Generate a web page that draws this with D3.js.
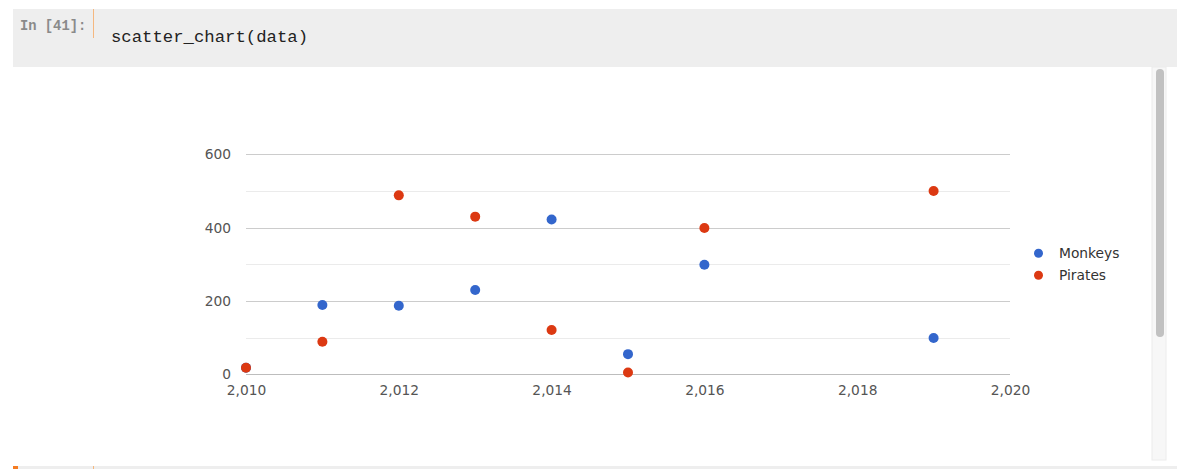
<!DOCTYPE html>
<html><head><meta charset="utf-8">
<script src="https://cdn.jsdelivr.net/npm/d3@7"></script>
<style>
html,body{margin:0;padding:0;background:#fff;overflow:hidden;}
svg{display:block;}
</style></head>
<body>
<svg id="c" width="1187" height="469"></svg>
<script>
const years = [2010, 2011, 2012, 2013, 2014, 2015, 2016, 2019];
const monkeys = [18, 189, 187, 230, 422, 55, 299, 99];
const pirates = [18, 89, 488, 430, 121, 5, 399, 500];
const seriesNames = ["Monkeys", "Pirates"];
const seriesColors = ["#3366cc", "#dc3912"];
const xTicks = [2010, 2012, 2014, 2016, 2018, 2020];
const yMajor = [0, 200, 400, 600];
const yMinor = [100, 300, 500];

const FONT = "DejaVu Sans, Verdana, sans-serif";
const svg = d3.select("#c");
// notebook cell chrome
svg.append("rect").attr("x",13).attr("y",9).attr("width",1164).attr("height",58).attr("fill","#eeeeee");
svg.append("rect").attr("x",93).attr("y",9).attr("width",1).attr("height",29).attr("fill","#f5b880");
svg.append("text").attr("x",20).attr("y",29.5).attr("font-family","Liberation Mono, monospace")
  .attr("font-size",13.8).attr("font-weight","bold").attr("fill","#8a8a8a").text("In [41]:");
svg.append("text").attr("x",111).attr("y",42).attr("font-family","Liberation Mono, monospace")
  .attr("font-size",17.3).attr("fill","#222").text("scatter_chart(data)");
// scrollbar
svg.append("rect").attr("x",1152).attr("y",67).attr("width",14).attr("height",393).attr("fill","#f7f7f7").attr("stroke","#ececec");
svg.append("rect").attr("x",1156).attr("y",69).attr("width",8).attr("height",268).attr("rx",4).attr("fill","#c1c1c1");
// bottom line of next cell
svg.append("rect").attr("x",13).attr("y",466).attr("width",1164).attr("height",3).attr("fill","#eeeeee");
svg.append("rect").attr("x",13).attr("y",466).attr("width",5).attr("height",3).attr("fill","#f57c22");
svg.append("rect").attr("x",93).attr("y",466).attr("width",1).attr("height",3).attr("fill","#f5b880");

const x = d3.scaleLinear().domain([2010, 2020]).range([246, 1010]);
const y = d3.scaleLinear().domain([0, 600]).range([374.3, 154.3]);

const g = svg.append("g");
g.selectAll(".minor").data(yMinor).enter().append("line")
  .attr("x1",x(2010)).attr("x2",x(2020)).attr("y1",d=>Math.round(y(d))+0.5).attr("y2",d=>Math.round(y(d))+0.5)
  .attr("stroke","#ebebeb");
g.selectAll(".major").data(yMajor).enter().append("line")
  .attr("x1",x(2010)).attr("x2",x(2020)).attr("y1",d=>Math.round(y(d))+0.5).attr("y2",d=>Math.round(y(d))+0.5)
  .attr("stroke",d=>d===0?"#bdbdbd":"#cccccc");

const fmt = d3.format(",");
const yAxis = d3.axisLeft(y).tickValues(yMajor).tickSize(0).tickPadding(15).tickFormat(fmt);
const ya = svg.append("g").attr("transform","translate(246,0)").call(yAxis);
const xAxis = d3.axisBottom(x).tickValues(xTicks).tickSize(0).tickPadding(10.5).tickFormat(fmt);
const xa = svg.append("g").attr("transform","translate(0,374.3)").call(xAxis);
[ya, xa].forEach(a => {
  a.select(".domain").remove();
  a.selectAll("text").attr("font-family",FONT).attr("font-size",13.8).attr("fill","#555");
});

const series = [monkeys, pirates];
series.forEach((vals, i) => {
  svg.append("g").selectAll("circle").data(vals).enter().append("circle")
    .attr("cx",(d,j)=>x(years[j])).attr("cy",d=>y(d)).attr("r",5)
    .attr("fill",seriesColors[i]);
});

const leg = svg.append("g");
seriesNames.forEach((n,i) => {
  const yy = 253.3 + i*22;
  leg.append("circle").attr("cx",1038.5).attr("cy",yy).attr("r",4.5).attr("fill",seriesColors[i]);
  leg.append("text").attr("x",1059).attr("y",yy).attr("dy","0.36em")
    .attr("font-family",FONT).attr("font-size",13.8).attr("fill","#333").text(n);
});
</script>
</body></html>
